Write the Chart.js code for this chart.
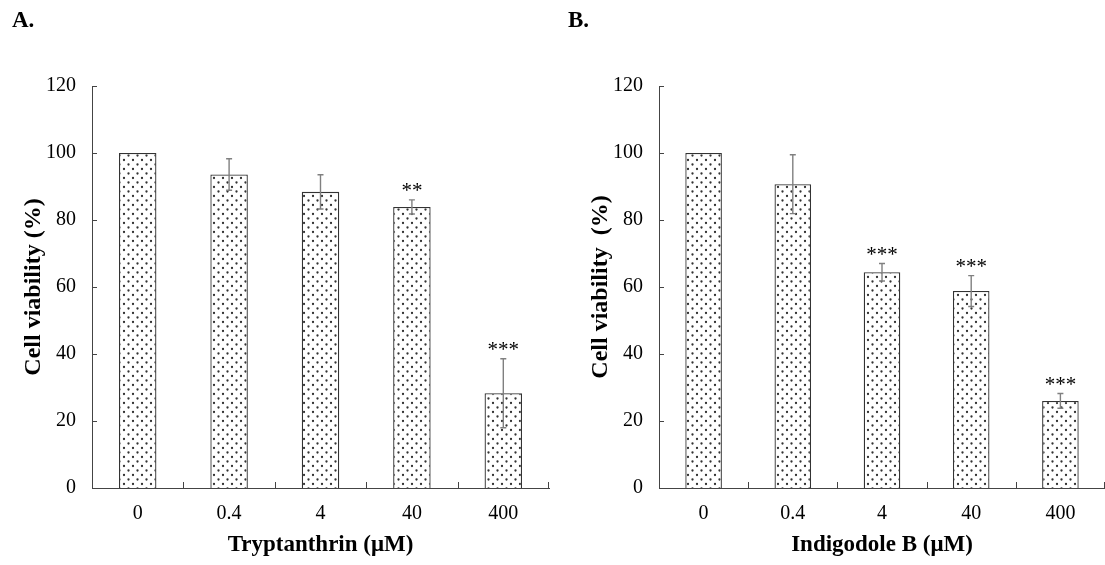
<!DOCTYPE html>
<html>
<head>
<meta charset="utf-8">
<script src="https://cdn.jsdelivr.net/npm/chart.js@4.4.0/dist/chart.umd.min.js"></script>
<style>
body{margin:0;background:#fff;width:1105px;height:565px;position:relative;overflow:hidden}
canvas{position:absolute;top:0}
.panel{position:absolute;font-family:'Liberation Serif',serif;font-weight:bold;font-size:23px;color:#000}
</style>
</head>
<body>
<canvas id="chartA" width="555" height="565" style="left:0"></canvas>
<canvas id="chartB" width="550" height="565" style="left:555px"></canvas>
<div class="panel" style="left:12px;top:7px">A.</div>
<div class="panel" style="left:568px;top:7px">B.</div>
<script>
// data
var doses = ['0', '0.4', '4', '40', '400']
var yTicks = [0, 20, 40, 60, 80, 100, 120]

var tryptanthrin = [100, 93.6, 88.4, 83.9, 28.3]
var tryptanthrinErr = [0, 4.7, 5.1, 2.1, 10.3]
var tryptanthrinSig = ['', '', '', '**', '***']

var indigodole = [100, 90.7, 64.4, 58.8, 26.0]
var indigodoleErr = [0, 8.8, 2.6, 4.6, 2.2]
var indigodoleSig = ['', '', '***', '***', '***']

var serif = "'Liberation Serif', 'Times New Roman', serif"

/** dotted fill like the excel pattern */
function dotPattern(){
  var c = document.createElement('canvas')
  c.width = 9
  c.height = 9
  var g = c.getContext('2d')
  g.fillStyle = '#fff'
  g.fillRect(0, 0, 9, 9)
  g.fillStyle = '#333'
  g.beginPath()
  g.arc(2.5, 2.5, 1.15, 0, Math.PI * 2)
  g.closePath()
  g.arc(7, 7, 1.15, 0, Math.PI * 2)
  g.fill()
  return g.createPattern(c, 'repeat')
}

/** error bars + significance stars on top of the bars */
var errorBars = {
  id: 'errorBars',
  afterDatasetsDraw: function(chart){
    var ctx = chart.ctx
    var y = chart.scales.y
    var ds = chart.data.datasets[0]
    var meta = chart.getDatasetMeta(0)
    ctx.save()
    ctx.strokeStyle = '#808080'
    ctx.lineWidth = 1.4
    meta.data.forEach(function(bar, i){
      var v = ds.data[i]
      var e = ds.errors[i]
      var top = y.getPixelForValue(v + e)
      if(e){
        var bot = y.getPixelForValue(v - e)
        ctx.beginPath()
        ctx.moveTo(bar.x, top)
        ctx.lineTo(bar.x, bot)
        ctx.moveTo(bar.x - 3, top)
        ctx.lineTo(bar.x + 3, top)
        ctx.moveTo(bar.x - 3, bot)
        ctx.lineTo(bar.x + 3, bot)
        ctx.stroke()
      }
      if(ds.stars[i]){
        ctx.fillStyle = '#000'
        ctx.font = '21px ' + serif
        ctx.textAlign = 'center'
        ctx.textBaseline = 'alphabetic'
        ctx.fillText(ds.stars[i], bar.x, top - 3)
      }
    })
    ctx.restore()
  }
}

/** tick marks pointing into the plot */
var innerTicks = {
  id: 'innerTicks',
  afterDraw: function(chart){
    var ctx = chart.ctx
    var x = chart.scales.x
    var y = chart.scales.y
    var area = chart.chartArea
    ctx.save()
    ctx.strokeStyle = '#444'
    ctx.lineWidth = 1
    ctx.beginPath()
    yTicks.forEach(function(t){
      var py = Math.round(y.getPixelForValue(t)) + 0.5
      ctx.moveTo(area.left, py)
      ctx.lineTo(area.left + 5, py)
    })
    for(var i = 1; i <= doses.length; i++){
      var px = i < doses.length
        ? (x.getPixelForValue(i - 1) + x.getPixelForValue(i)) / 2
        : area.right - 1
      px = Math.round(px) + 0.5
      ctx.moveTo(px, area.bottom)
      ctx.lineTo(px, area.bottom - 6)
    }
    ctx.stroke()
    ctx.restore()
  }
}

function makeChart(id, values, errors, stars, xTitle, yTitle, yWidth, yTitlePad, rightPad){
  return new Chart(id, {
    type: 'bar',
    data: {
      labels: doses,
      datasets: [{
        data: values,
        errors: errors,
        stars: stars,
        backgroundColor: dotPattern(),
        borderColor: '#333',
        borderWidth: 1.3,
        barPercentage: 0.41,
        categoryPercentage: 1
      }]
    },
    options: {
      responsive: false,
      animation: false,
      layout: {padding: {left: 0, top: 86, right: rightPad, bottom: 0}},
      plugins: {legend: {display: false}, tooltip: {enabled: false}},
      scales: {
        x: {
          offset: true,
          grid: {display: false, drawTicks: false},
          border: {display: true, color: '#444', width: 1},
          ticks: {color: '#000', font: {family: serif, size: 20}, padding: 14},
          title: {display: true, text: xTitle, color: '#000',
            font: {family: serif, size: 23, weight: 'bold'}, padding: {top: 0, bottom: 6}},
          afterFit: function(s){ s.height = 77 }
        },
        y: {
          min: 0,
          max: 120,
          grid: {display: false, drawTicks: false},
          border: {display: true, color: '#444', width: 1},
          ticks: {stepSize: 20, color: '#000', font: {family: serif, size: 20}, padding: 16},
          title: {display: true, text: yTitle, color: '#000',
            font: {family: serif, size: 24, weight: 'bold'}, padding: {top: yTitlePad, bottom: 0}},
          afterFit: function(s){ s.width = yWidth }
        }
      }
    },
    plugins: [errorBars, innerTicks]
  })
}

var chartA = makeChart('chartA', tryptanthrin, tryptanthrinErr, tryptanthrinSig,
  'Tryptanthrin (\u03bcM)', 'Cell viability (%)', 92, 19, 6)
var chartB = makeChart('chartB', indigodole, indigodoleErr, indigodoleSig,
  'Indigodole B (\u03bcM)', 'Cell viability  (%)', 104, 31, 0)
</script>
</body>
</html>
